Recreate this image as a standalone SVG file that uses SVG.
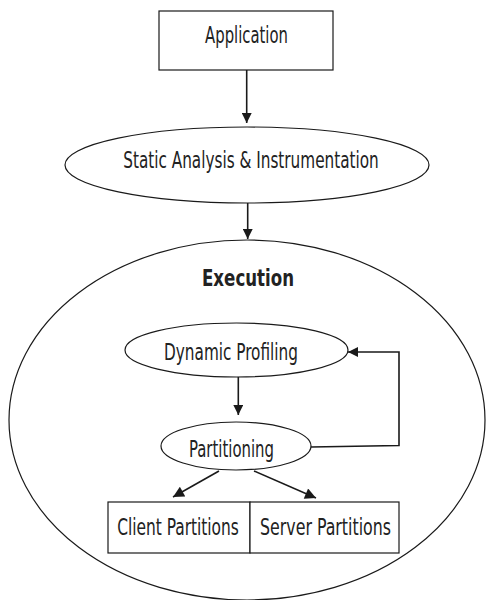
<svg xmlns="http://www.w3.org/2000/svg" width="488" height="600" viewBox="0 0 488 600">
<style>
.s{fill:#fff;stroke:#1a1a1a;stroke-width:1.2}
.t{font-family:"DejaVu Sans Condensed","DejaVu Sans",sans-serif;font-size:23px;fill:#222;text-anchor:middle}
.b{font-weight:bold}
.c{fill:none;stroke:#1a1a1a;stroke-width:1.6}
</style>
<defs>
<marker id="ah" viewBox="0 0 10 10" refX="10" refY="5" markerWidth="13" markerHeight="10" markerUnits="userSpaceOnUse" orient="auto">
<path d="M0,0 L10,5 L0,10 z" fill="#1a1a1a"/>
</marker>
<marker id="ah2" viewBox="0 0 10 10" refX="10" refY="5" markerWidth="14" markerHeight="11" markerUnits="userSpaceOnUse" orient="auto">
<path d="M0,0 L10,5 L0,10 z" fill="#1a1a1a"/>
</marker>
</defs>
<rect width="488" height="600" fill="#fff"/>
<g id="execution">
<ellipse class="s" cx="247" cy="420" rx="238" ry="180"/>
<text class="t b" transform="translate(248,286) scale(0.8,1)" textLength="115" lengthAdjust="spacingAndGlyphs">Execution</text>
</g>
<g id="application">
<rect class="s" x="159" y="11" width="174" height="59"/>
<text class="t" transform="translate(246.5,43) scale(0.72,1)" textLength="115" lengthAdjust="spacingAndGlyphs">Application</text>
</g>
<g id="static">
<ellipse class="s" cx="247" cy="165" rx="182" ry="38"/>
<text class="t" transform="translate(251,168) scale(0.72,1)" textLength="355" lengthAdjust="spacingAndGlyphs">Static Analysis &amp; Instrumentation</text>
</g>
<g id="profiling">
<ellipse class="s" cx="236.5" cy="350" rx="111.5" ry="27"/>
<text class="t" transform="translate(231,360) scale(0.72,1)" textLength="186" lengthAdjust="spacingAndGlyphs">Dynamic Profiling</text>
</g>
<g id="partitioning">
<ellipse class="s" cx="236" cy="446" rx="75" ry="24"/>
<text class="t" transform="translate(231.5,457) scale(0.72,1)" textLength="118" lengthAdjust="spacingAndGlyphs">Partitioning</text>
</g>
<g id="client">
<rect class="s" x="108" y="502" width="142" height="51"/>
<text class="t" transform="translate(178,535) scale(0.72,1)" textLength="169" lengthAdjust="spacingAndGlyphs">Client Partitions</text>
</g>
<g id="server">
<rect class="s" x="250" y="502" width="149" height="51"/>
<text class="t" transform="translate(325.5,535) scale(0.72,1)" textLength="182" lengthAdjust="spacingAndGlyphs">Server Partitions</text>
</g>
<g id="connectors">
<line class="c" x1="246.7" y1="70" x2="246.7" y2="123" marker-end="url(#ah)"/>
<line class="c" x1="247.7" y1="203" x2="247.7" y2="239" marker-end="url(#ah)"/>
<line class="c" x1="238.3" y1="377" x2="238.3" y2="415" marker-end="url(#ah)"/>
<polyline class="c" points="311,447 399,445.5 399,352 348,352" marker-end="url(#ah)"/>
<line class="c" x1="219" y1="471" x2="173" y2="497" marker-end="url(#ah2)"/>
<line class="c" x1="254" y1="471" x2="316" y2="498" marker-end="url(#ah2)"/>
</g>
</svg>
